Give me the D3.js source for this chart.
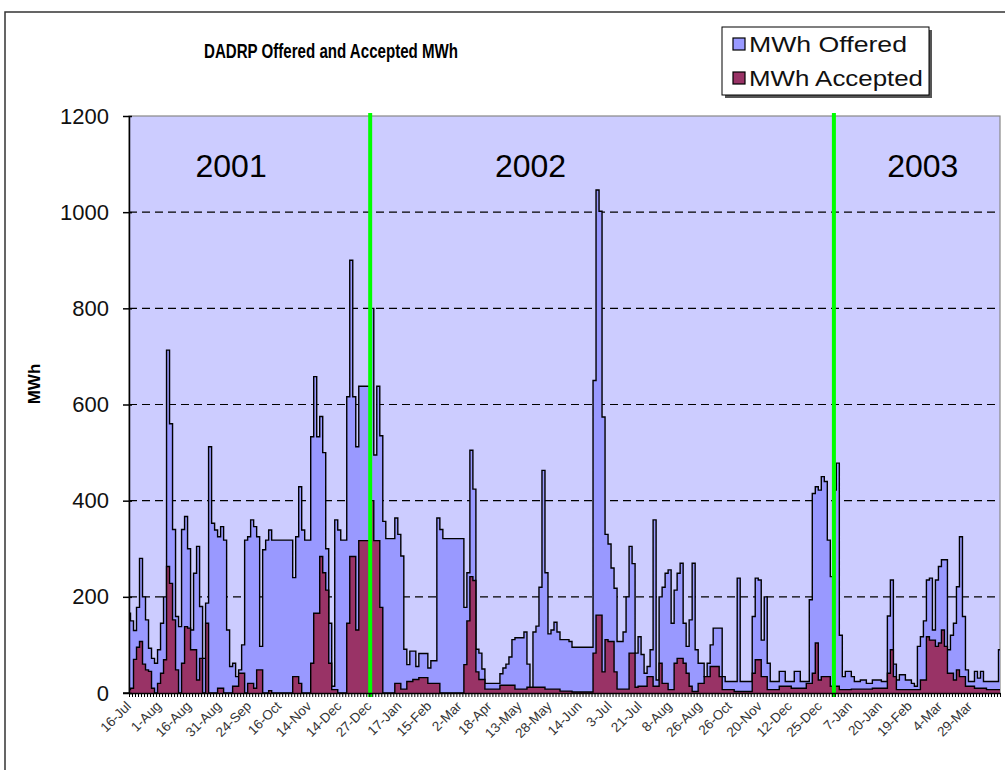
<!DOCTYPE html>
<html><head><meta charset="utf-8">
<script src="https://cdn.jsdelivr.net/npm/d3@7"></script>
<style>body{margin:0;background:#fff}svg{display:block;font-family:Arial,"Liberation Sans",sans-serif}</style>
</head><body>
<svg id="c" width="1005" height="770"></svg>
<script>
const title = "DADRP Offered and Accepted MWh";
const seriesNames = ["MWh Offered", "MWh Accepted"];
const yTicks = [0, 200, 400, 600, 800, 1000, 1200];
const tickLabels = ["16-Jul","1-Aug","16-Aug","31-Aug","24-Sep","16-Oct","14-Nov","14-Dec","27-Dec","17-Jan","15-Feb","2-Mar","18-Apr","13-May","28-May","14-Jun","3-Jul","21-Jul","8-Aug","26-Aug","26-Oct","20-Nov","12-Dec","25-Dec","7-Jan","20-Jan","19-Feb","4-Mar","29-Mar"];
const labelEvery = 10;
const yearLabels = ["2001", "2002", "2003"];
const yearLabelPos = [34, 133.7, 264.3];
const yearBreaks = [80.3, 234.7];
const offered = [166,150,130,178,280,200,152,93,72,62,
90,145,200,713,560,340,159,138,340,367,
300,131,249,305,180,72,187,512,353,339,
325,346,318,131,55,62,34,48,100,318,
325,360,346,325,97,298,318,339,318,318,
318,318,318,318,318,240,325,429,339,318,
318,533,658,533,575,500,300,145,14,360,
339,318,318,616,900,616,512,638,638,638,
638,800,495,638,535,357,321,321,321,364,
330,285,91,59,87,87,55,82,82,82,
52,67,67,364,340,321,321,321,321,321,
321,321,178,250,505,424,91,83,50,20,
20,20,20,20,40,52,60,75,111,115,
115,115,127,60,4,127,139,220,463,250,
123,131,147,127,111,111,111,107,95,95,
95,95,95,95,95,650,1046,1002,574,330,
310,260,218,107,107,127,200,305,269,83,
117,80,41,55,90,360,27,200,220,249,
256,145,214,249,270,145,97,152,270,90,
62,62,34,62,100,135,135,135,34,24,
24,24,24,239,24,24,24,24,159,239,
235,110,200,62,24,24,24,45,45,24,
24,24,45,45,24,24,24,194,415,429,
422,450,440,318,242,422,478,120,34,45,
45,34,24,24,27,27,20,20,27,27,
27,24,24,160,235,60,27,38,38,27,
27,20,14,97,117,150,235,239,131,235,
263,277,277,90,120,145,221,325,159,48,
24,24,45,31,45,24,24,24,24,24,90];
const accepted = [7,10,70,95,107,60,48,45,10,0,
20,41,69,263,228,152,48,0,62,138,
135,90,90,27,72,0,145,0,0,0,
10,10,0,0,0,14,14,41,41,0,
20,20,10,48,48,0,0,5,0,0,
0,0,0,0,0,34,34,20,0,0,
0,62,166,166,284,250,214,62,7,7,
0,0,0,145,284,284,131,317,317,317,
317,400,317,317,178,0,0,0,0,20,
20,8,8,24,24,28,28,32,32,32,
20,20,20,20,0,0,0,0,0,0,
0,0,59,150,242,234,44,28,28,8,
8,8,8,8,16,16,16,16,16,8,
8,8,8,12,12,12,12,12,12,8,
8,8,8,8,4,4,4,4,2,2,
2,2,2,2,2,83,162,162,44,111,
107,107,44,8,8,8,8,83,83,12,
14,14,14,34,34,14,14,62,20,20,
7,7,62,72,72,62,41,14,3,3,
20,20,34,34,55,55,55,34,7,7,
7,7,3,3,3,3,3,3,41,69,
69,34,34,7,7,7,7,14,14,14,
14,10,10,10,10,10,20,20,41,104,
27,34,34,34,14,14,14,7,7,7,
7,8,8,8,8,8,8,8,10,10,
10,10,10,41,90,34,7,7,7,7,
7,7,7,7,27,27,117,110,110,97,
104,131,97,41,41,27,48,34,34,14,
14,14,10,10,10,10,7,7,7,7,7];

const svg = d3.select("#c");
const L = 129, R = 1000, T = 116, B = 693;
const N = offered.length;
const x = d3.scaleLinear().domain([0, N - 1]).range([L, R]);
const y = d3.scaleLinear().domain([0, 1200]).range([B, T]);

svg.append("rect").attr("x", 5).attr("y", 12).attr("width", 1010).attr("height", 780)
  .attr("fill", "#fff").attr("stroke", "#333").attr("stroke-width", 1.5);

svg.append("rect").attr("x", L).attr("y", T).attr("width", R - L).attr("height", B - T)
  .attr("fill", "#CCCCFF").attr("stroke", "#888").attr("stroke-width", 1.2);

svg.append("g").selectAll("line").data(yTicks.filter(d => d > 0 && d < 1200)).join("line")
  .attr("x1", L).attr("x2", R).attr("y1", d => y(d)).attr("y2", d => y(d))
  .attr("stroke", "#000").attr("stroke-width", 1.2).attr("stroke-dasharray", "8,5");

svg.append("clipPath").attr("id", "pc").append("rect")
  .attr("x", L).attr("y", T - 5).attr("width", R - L).attr("height", B - T + 5);
const area = vals => d3.area().curve(d3.curveStep).x((d, i) => x(i)).y0(y(0)).y1(d => y(d))(vals);
const line = vals => d3.line().curve(d3.curveStep).x((d, i) => x(i)).y(d => y(d))(vals);
const pg = svg.append("g").attr("clip-path", "url(#pc)");
pg.append("path").attr("d", area(offered)).attr("fill", "#9999FF");
pg.append("path").attr("d", line(offered)).attr("fill", "none").attr("stroke", "#000").attr("stroke-width", 1.4);
pg.append("path").attr("d", area(accepted)).attr("fill", "#993366");
pg.append("path").attr("d", line(accepted)).attr("fill", "none").attr("stroke", "#000").attr("stroke-width", 1.4);

svg.append("g").selectAll("line").data(yearBreaks).join("line")
  .attr("x1", d => x(d)).attr("x2", d => x(d)).attr("y1", T - 3).attr("y2", B + 4)
  .attr("stroke", "#00FF00").attr("stroke-width", 4);

svg.append("g").selectAll("text").data(yearLabels).join("text")
  .attr("x", (d, i) => x(yearLabelPos[i])).attr("y", 177).attr("text-anchor", "middle")
  .attr("font-size", 32).attr("fill", "#000").text(d => d);

const yAxis = d3.axisLeft(y).tickValues(yTicks).tickFormat(d3.format("d")).tickSize(6).tickPadding(14).tickSizeOuter(0);
const gy = svg.append("g").attr("transform", `translate(${L},0)`).call(yAxis);
gy.select(".domain").attr("stroke", "#000").attr("stroke-width", 1.5);
gy.selectAll(".tick line").attr("stroke", "#000").attr("stroke-width", 1.5).attr("x2", -6).attr("x1", 3);
gy.selectAll(".tick text").attr("font-size", 22).attr("fill", "#111").attr("font-family", "Arial, Liberation Sans, sans-serif");

const xAxis = d3.axisBottom(x).tickValues(d3.range(N)).tickSize(4).tickFormat("").tickSizeOuter(0);
const gx = svg.append("g").attr("transform", `translate(0,${B})`).call(xAxis);
gx.select(".domain").attr("stroke", "#000").attr("stroke-width", 1.5);
gx.selectAll(".tick line").attr("stroke", "#000").attr("stroke-width", 1);
svg.append("line").attr("x1", L - 6).attr("x2", L).attr("y1", B).attr("y2", B).attr("stroke", "#000").attr("stroke-width", 1.5);

svg.append("g").selectAll("text").data(tickLabels).join("text")
  .attr("transform", (d, i) => `translate(${x(i * labelEvery) + 3},${B + 14}) rotate(-45)`)
  .attr("text-anchor", "end").attr("font-size", 13.5).attr("fill", "#333").text(d => d);

svg.append("text").attr("transform", "translate(40,384) rotate(-90)").attr("text-anchor", "middle")
  .attr("font-size", 17).attr("font-weight", "bold").text("MWh");

svg.append("text").attr("x", 331).attr("y", 58).attr("text-anchor", "middle")
  .attr("font-size", 21).attr("font-weight", "bold")
  .attr("textLength", 254).attr("lengthAdjust", "spacingAndGlyphs").text(title);

const lg = svg.append("g");
lg.append("rect").attr("x", 725).attr("y", 30).attr("width", 207).attr("height", 68).attr("fill", "#555");
lg.append("rect").attr("x", 722).attr("y", 27).attr("width", 207).attr("height", 68).attr("fill", "#fff").attr("stroke", "#000").attr("stroke-width", 1);
const legColors = ["#9999FF", "#993366"];
seriesNames.forEach((s, i) => {
  const cy = 44 + i * 34;
  lg.append("rect").attr("x", 733).attr("y", cy - 6).attr("width", 12).attr("height", 12)
    .attr("fill", legColors[i]).attr("stroke", "#000").attr("stroke-width", 1.2);
  lg.append("text").attr("x", 749).attr("y", cy + 8).attr("font-size", 22)
    .attr("textLength", i === 0 ? 158 : 174).attr("lengthAdjust", "spacingAndGlyphs")
    .attr("fill", "#111").text(s);
});
</script>
</body></html>
